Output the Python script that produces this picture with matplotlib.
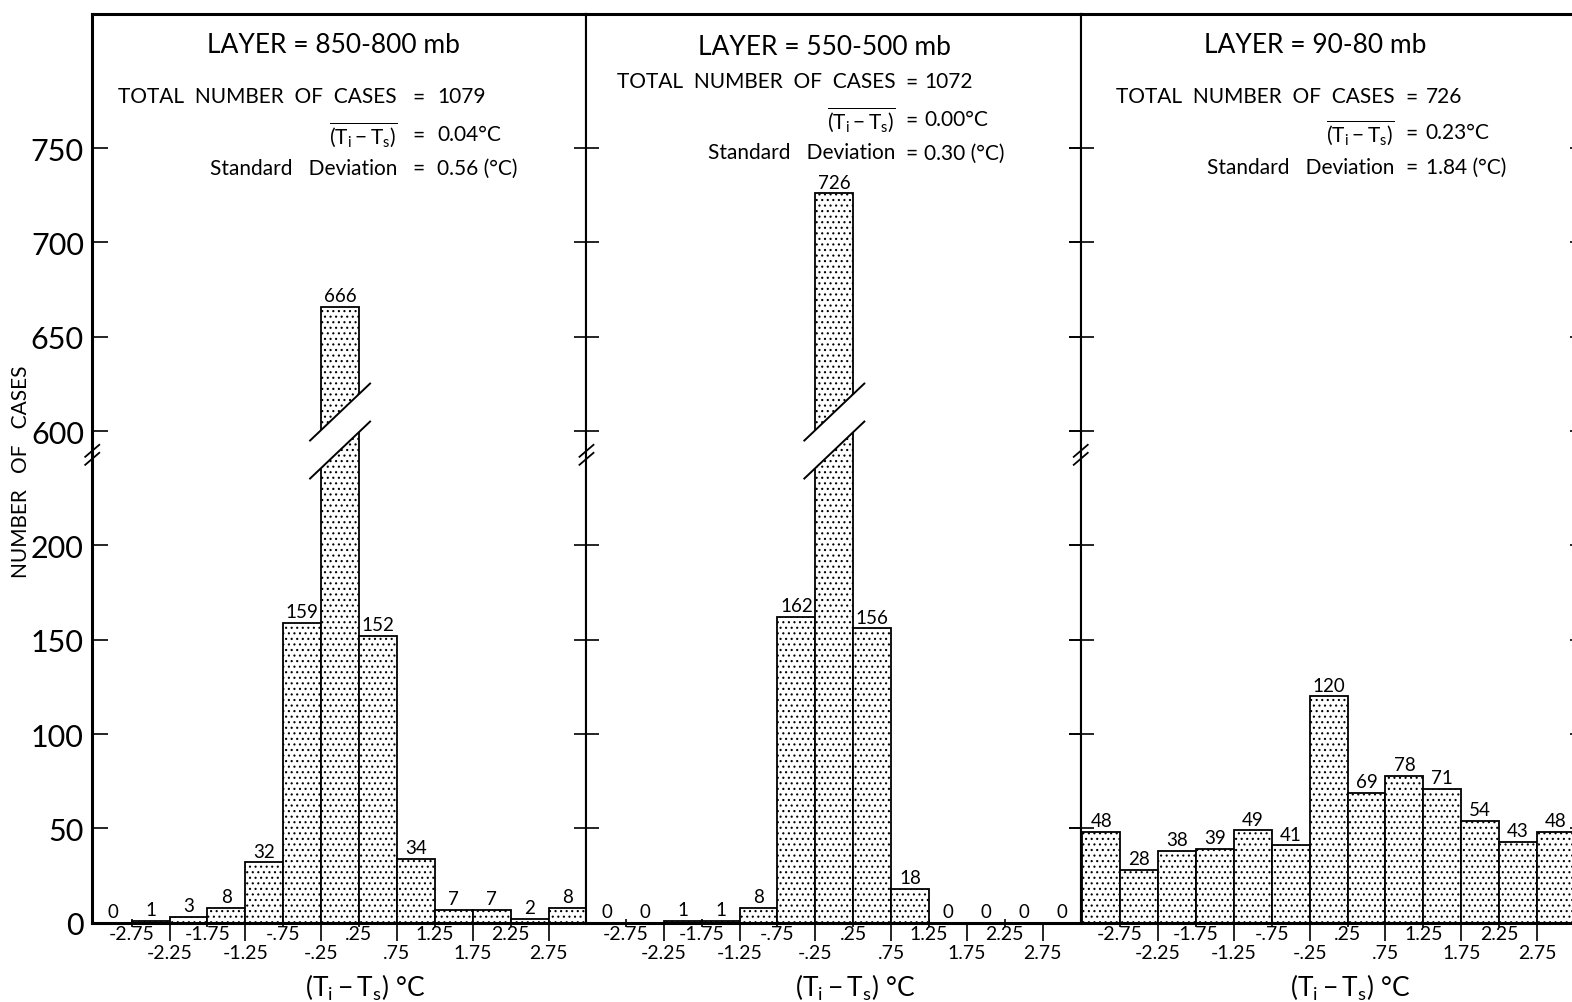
import numpy as np
import matplotlib
matplotlib.use("Agg")
import matplotlib.pyplot as plt
import matplotlib.transforms as mtransforms
from matplotlib.patches import Polygon

plt.rcParams.update({
    "font.family": ["Lato", "DejaVu Sans"],
    "font.weight": "normal",
    "mathtext.fontset": "custom",
    "mathtext.rm": "Lato",
    "mathtext.it": "Lato",
    "mathtext.bf": "Lato:bold",
    "hatch.linewidth": 0.8,
})

# ---- data ----
BIN_CENTERS = [-3.0, -2.5, -2.0, -1.5, -1.0, -0.5, 0.0, 0.5, 1.0, 1.5, 2.0, 2.5, 3.0]
BIN_WIDTH = 0.5
COUNTS_850_800 = [0, 1, 3, 8, 32, 159, 666, 152, 34, 7, 7, 2, 8]
COUNTS_550_500 = [0, 0, 1, 1, 8, 162, 726, 156, 18, 0, 0, 0, 0]
COUNTS_90_80 = [48, 28, 38, 39, 49, 41, 120, 69, 78, 71, 54, 43, 48]
COUNTS = [COUNTS_850_800, COUNTS_550_500, COUNTS_90_80]

LAYERS = ["850-800", "550-500", "90-80"]
TOTAL_CASES = [1079, 1072, 726]
MEAN_DIFF = [0.04, 0.00, 0.23]
STD_DEV = [0.56, 0.30, 1.84]

Y_TICKS = [0, 50, 100, 150, 200, 600, 650, 700, 750]
X_TICKS_UPPER = [-2.75, -1.75, -0.75, 0.25, 1.25, 2.25]
X_LABELS_UPPER = ["-2.75", "-1.75", "-.75", ".25", "1.25", "2.25"]
X_TICKS_LOWER = [-2.25, -1.25, -0.25, 0.75, 1.75, 2.75]
X_LABELS_LOWER = ["-2.25", "-1.25", "-.25", ".75", "1.75", "2.75"]

# ---- broken y axis: 250..600 squeezed into a small gap ----
BREAK_LOW = 250.0
BREAK_HIGH = 600.0
GAP = 10.6
Y_TOP = 821.0


def fwd(v):
    v = np.asarray(v, dtype=float)
    mid = BREAK_LOW + (v - BREAK_LOW) * GAP / (BREAK_HIGH - BREAK_LOW)
    hi = v - BREAK_HIGH + BREAK_LOW + GAP
    return np.where(v <= BREAK_LOW, v, np.where(v < BREAK_HIGH, mid, hi))


def inv(y):
    y = np.asarray(y, dtype=float)
    mid = BREAK_LOW + (y - BREAK_LOW) * (BREAK_HIGH - BREAK_LOW) / GAP
    hi = y - BREAK_LOW - GAP + BREAK_HIGH
    return np.where(y <= BREAK_LOW, y, np.where(y < BREAK_LOW + GAP, mid, hi))


# layout in reference pixels (1568 x 1000 view)
W, H = 1568.0, 1000.0
PANEL_LEFT = [92, 585, 1078]
PANEL_WIDTH = [493, 493, 500]
AX_BOTTOM, AX_TOP = 921, 15
PX_PER_UNIT = 75.6
X_START = -3.27

TITLE_POS = [(333, 45), (822, 47), (1312, 45)]
ROW_Y = [(97, 135, 168), (82, 120, 153), (97, 133, 167)]
COLS = [(396, 417, 436), (893, 909, 922), (1391, 1408, 1422)]
XLABEL_X = [0.552, 0.544, 0.538]


def fx(x):
    return x / W


def fy(y):
    return 1 - y / H


fig = plt.figure(figsize=(15.72, 10.03), dpi=100)


def px_trans(x, y, base):
    # offsets given in pixels around a point (x, y) of `base`
    return (mtransforms.Affine2D().scale(1 / 100.0) + fig.dpi_scale_trans
            + mtransforms.ScaledTranslation(x, y, base))


def bar_break(ax, xc, yv, slope=0.95, half_gap=19, half_w=21, half_len=30):
    tr = px_trans(xc, yv, ax.transData)
    gap = Polygon([(-half_w, -slope * half_w + half_gap),
                   (half_w, slope * half_w + half_gap),
                   (half_w, slope * half_w - half_gap),
                   (-half_w, -slope * half_w - half_gap)],
                  closed=True, facecolor="white", edgecolor="none",
                  transform=tr, zorder=4, clip_on=False)
    ax.add_patch(gap)
    for s in (1, -1):
        ax.plot([-half_len, half_len],
                [-slope * half_len + s * half_gap, slope * half_len + s * half_gap],
                color="black", lw=1.4, transform=tr, zorder=5, clip_on=False)


def spine_break(ax, xa, yv):
    tr = px_trans(xa, yv, mtransforms.blended_transform_factory(ax.transAxes, ax.transData))
    for dy in (4, -4):
        ax.plot([-7, 7], [-6 + dy, 6 + dy], color="black", lw=1.3,
                transform=tr, zorder=6, clip_on=False)


for i, counts in enumerate(COUNTS):
    left, width = PANEL_LEFT[i], PANEL_WIDTH[i]
    ax = fig.add_axes([fx(left), fy(AX_BOTTOM), width / W, (AX_BOTTOM - AX_TOP) / H])
    ax.set_yscale("function", functions=(fwd, inv))

    bars = ax.bar(BIN_CENTERS, counts, width=BIN_WIDTH, facecolor="white",
                  edgecolor="black", hatch="...", linewidth=1.3, zorder=2)
    ax.bar_label(bars, padding=2, fontsize=13.5)

    ax.set_xlim(X_START, X_START + width / PX_PER_UNIT)
    ax.set_ylim(0, Y_TOP)

    ax.set_yticks(Y_TICKS)
    if i == 0:
        ax.set_yticklabels([str(t) for t in Y_TICKS])
        ax.tick_params(axis="y", direction="in", length=11.5, width=1.2,
                       labelsize=22, pad=6, left=True, right=False)
    else:
        ax.tick_params(axis="y", direction="inout", length=18, width=1.2,
                       left=True, right=True, labelleft=False)
    ax.yaxis.set_minor_locator(matplotlib.ticker.NullLocator())

    ax.set_xticks(X_TICKS_UPPER, X_LABELS_UPPER)
    ax.set_xticks(X_TICKS_LOWER, X_LABELS_LOWER, minor=True)
    ax.tick_params(axis="x", which="major", direction="inout", length=6,
                   width=1.2, labelsize=14, pad=-1.5)
    ax.tick_params(axis="x", which="minor", direction="out", length=13,
                   width=1.2, labelsize=14, pad=2.5)

    for side in ("top", "bottom"):
        ax.spines[side].set_linewidth(2.2)
    ax.spines["left"].set_linewidth(2.2 if i == 0 else 1.5)
    ax.spines["right"].set_linewidth(1.5)

    ax.set_xlabel(r"$(\mathrm{T_i - T_s})$ °C", fontsize=19)
    ax.xaxis.set_label_coords(XLABEL_X[i], -0.054)

    for xc, c in zip(BIN_CENTERS, counts):
        if c > BREAK_HIGH:
            bar_break(ax, xc, BREAK_HIGH)
    spine_break(ax, 0, 248)
    if i == len(COUNTS) - 1:
        spine_break(ax, 1, 248)

    # statistics block
    tx, ty = TITLE_POS[i]
    fig.text(fx(tx), fy(ty), f"LAYER = {LAYERS[i]} mb", ha="center", va="center",
             fontsize=19)
    lefts = ["TOTAL  NUMBER  OF  CASES",
             r"$\overline{(\mathrm{T_i - T_s})}$",
             "Standard   Deviation"]
    rights = [f"{TOTAL_CASES[i]}", f"{MEAN_DIFF[i]:.2f}°C", f"{STD_DEV[i]:.2f} (°C)"]
    x_end, x_eq, x_val = COLS[i]
    for row_y, ltxt, rtxt in zip(ROW_Y[i], lefts, rights):
        fig.text(fx(x_end), fy(row_y), ltxt, ha="right", va="center", fontsize=15)
        fig.text(fx(x_eq), fy(row_y), "=", ha="center", va="center", fontsize=15)
        fig.text(fx(x_val), fy(row_y), rtxt, ha="left", va="center", fontsize=15)

fig.text(fx(21), fy(470), "NUMBER   OF   CASES", rotation=90, ha="center",
         va="center", fontsize=15)

fig.savefig("out.png", dpi=100)
